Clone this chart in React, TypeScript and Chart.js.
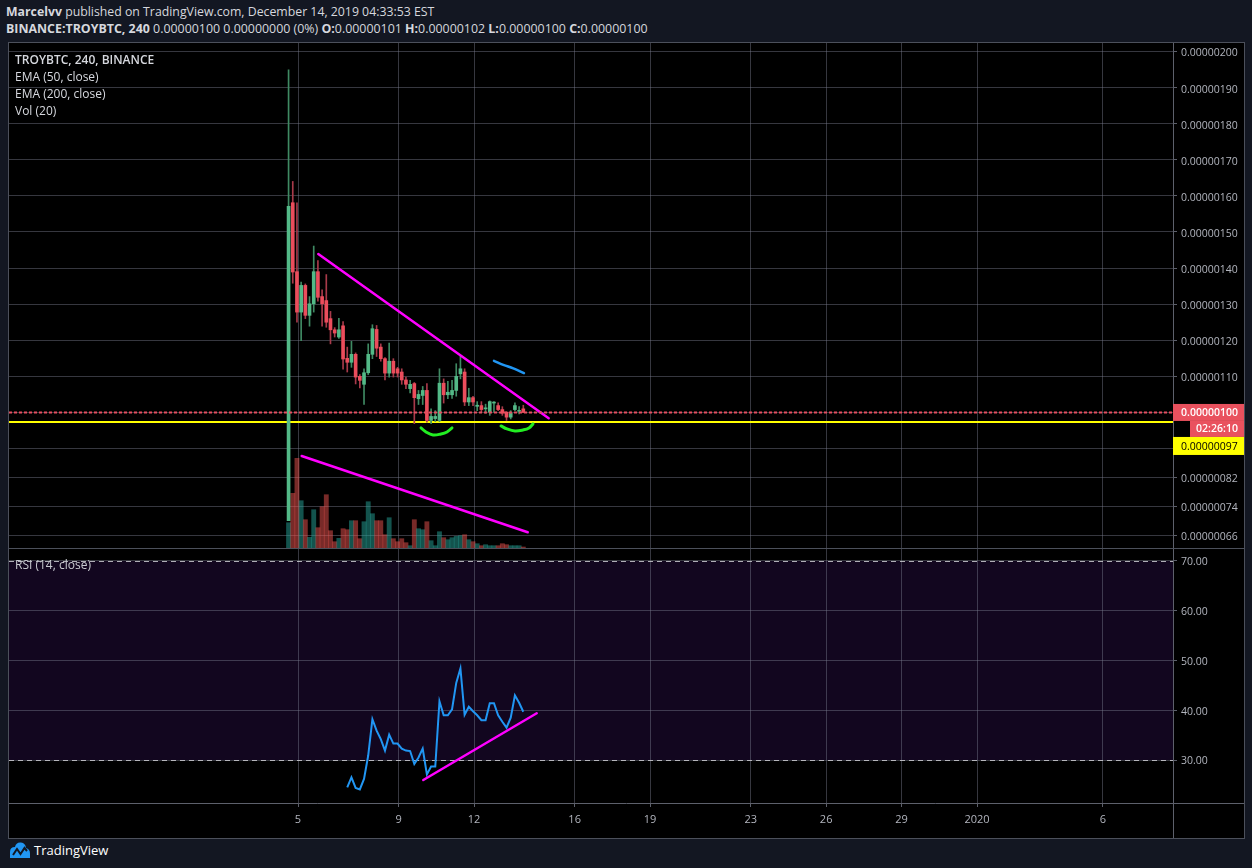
import React, { useEffect, useRef } from "react";
import { Chart, registerables } from "chart.js";

Chart.register(...registerables);

// ---------------- data (prices in satoshi, 1e-8 BTC) ----------------
const barsPerDay = 6; // 240-minute bars
const firstBarDay = 4.625; // first bar: Dec 4 (chart time)

const opens = [70, 158.1, 139, 127.8, 135.2, 126.9, 130.1, 139, 132.1, 131, 126, 122.9, 120.9, 124, 115, 113.9, 116.1, 110, 107.8, 111, 116.1, 123, 118.1, 114.9, 110.9, 114.2, 112.1, 111.2, 109, 106.6, 108, 103.8, 104.7, 106.1, 97.8, 98.3, 97.8, 108.1, 104.9, 104.9, 106.1, 110.7, 111.2, 102.9, 104.1, 101.7, 101.9, 101, 100.1, 102.6, 101.9, 100.8, 100.1, 98.7, 100.8, 100.3, 101];
const highs = [194.9, 164, 158.1, 136.1, 135.6, 132.1, 146.1, 142.1, 134, 138.2, 128, 123.5, 126.1, 125.2, 118.1, 119.7, 116.5, 110.5, 112.1, 119, 124.3, 124.1, 119, 115.2, 119.2, 114.9, 112.5, 112.1, 109.8, 108.9, 108.3, 106.1, 107.2, 108, 101, 100.5, 112.1, 109.3, 108.6, 108.9, 113.5, 115.8, 112.1, 106.7, 104.5, 103, 103, 102.3, 103.2, 103, 102.7, 101.6, 100.1, 100.5, 102.7, 101.6, 102];
const lows = [70, 135.8, 125, 119.9, 126, 123.9, 127.8, 130.8, 123.9, 123.6, 119, 120.9, 120.5, 112, 111.2, 112.5, 107.9, 106.8, 102.2, 110.5, 114.9, 115.5, 114.2, 109, 109.8, 109.8, 109.8, 107.8, 106.6, 105.4, 96.9, 102.2, 102.2, 97.3, 96.9, 97.5, 97.5, 102.6, 103.8, 103.9, 104.5, 109.3, 101.9, 101.9, 101.9, 100.5, 100.1, 99.8, 99.2, 100.1, 100.5, 99.2, 97.8, 98.2, 100.5, 99.6, 100];
const closes = [157.1, 138.9, 127.8, 135.2, 126.9, 130.1, 139, 131.9, 130.1, 125, 122.9, 122, 122.9, 114.8, 113.9, 116.1, 109.8, 108.9, 111, 116.1, 123.2, 117.8, 114.9, 110.9, 114.2, 110.9, 110.9, 109, 107.8, 107.8, 104.1, 105, 106.1, 97.8, 98.9, 98.9, 108.1, 104.9, 105.6, 106.1, 110, 112.1, 102.9, 104.1, 102.9, 102, 100.8, 101.2, 103, 102.8, 100.8, 99.8, 98.7, 99.8, 101.9, 100.5, 100];
const volumes = [25.3, 54.7, 89.7, 47.3, 28.3, 10.7, 38.3, 20.3, 41.3, 53.3, 17.3, 6.3, 9.7, 19.3, 18.3, 27.3, 27.3, 9.3, 26.3, 46.3, 34.3, 27.3, 27.3, 13.3, 30.3, 9.3, 6.3, 9.3, 5.3, 2.3, 28.3, 19.3, 18.3, 26.3, 7.3, 2.3, 16.3, 10.3, 8.3, 10.3, 11.7, 12.3, 13.3, 8.3, 6.3, 4.3, 2.3, 3.3, 2.3, 2.3, 2.3, 4.3, 3.3, 2.3, 2.3, 2.3, 1];

const rsiStartBar = 14;
const rsiValues = [24.5, 26.5, 24.4, 24.1, 26.2, 30.9, 38.2, 35.9, 34.2, 31.9, 35.1, 33.3, 33.3, 32.3, 31.9, 31.8, 29.2, 30.5, 32.3, 27.1, 28.7, 28.7, 41.8, 39, 39, 40.2, 45.5, 48.4, 39.1, 40.7, 39.8, 39, 38, 38, 41.4, 41.4, 39, 37.7, 36.5, 38.5, 43, 41.5, 39.7];

const dayTicks = [5, 9, 12, 16, 19, 23, 26, 29, 32, 37];
const dayTickLabels = ["5", "9", "12", "16", "19", "23", "26", "29", "2020", "6"];
const priceTicks = [66, 74, 82, 90, 100, 110, 120, 130, 140, 150, 160, 170, 180, 190, 200];
const rsiTicks = [30, 40, 50, 60, 70];

const lastPrice = 100;
const horizontalLevel = 97.3;
const timerText = "02:26:10";

// drawings (day, price)
const trendPriceX = [5.807, 14.967];
const trendPriceY = [143.9, 98.4];
const trendVolX = [5.147, 14.133];
const trendVolY = [87.95, 66.8];
const blueX = [12.793, 13.163, 13.561, 13.986];
const blueY = [114.3, 113.2, 112.2, 110.9];
const arc1X = [9.891, 10.089, 10.368, 10.686, 10.924, 11.123];
const arc1Y = [95.71, 94.6, 93.77, 94.04, 94.6, 95.71];
const arc2X = [13.072, 13.31, 13.628, 13.946, 14.185, 14.344];
const arc2Y = [96.26, 95.43, 94.88, 95.15, 95.71, 96.82];
const trendRsiX = [9.982, 14.491];
const trendRsiY = [25.98, 39.39];

// ---------------- styling / layout ----------------
const FONT = "'Open Sans', 'Noto Sans', sans-serif";
const X_MIN = -6.491;
const X_MAX = 39.791;
const PRICE_MIN = 62.45;
const PRICE_MAX = 202.35;
const RSI_MIN = 21.36;
const RSI_MAX = 72.41;
const AXIS_W = 71;
const UP = "#53b987";
const DOWN = "#eb4d5c";
const UP_WICK = "#3f8a63";
const DOWN_WICK = "#a83a4a";
const GRID = "rgba(120,123,140,0.45)";
const TICK = "#5d606b";
const AXIS_TEXT = "#b2b5be";
const FRAME = "#4c505b";
const LABEL_RED = "#e9515e";

const fmtPrice = (v: number) => (v / 1e8).toFixed(8);
const barX = (i: number) => firstBarDay + i / barsPerDay;
const pts = (xs: number[], ys: number[]) => xs.map((x, i) => ({ x, y: ys[i] }));
const isUp = closes.map((c, i) => c >= opens[i]);

const dayLabel = (v: number) => {
  const k = dayTicks.indexOf(v);
  return k >= 0 ? dayTickLabels[k] : "";
};

function drawingLine(data: any[], color: string, width: number, tension = 0, yAxisID = "y") {
  return {
    type: "line",
    data,
    borderColor: color,
    borderWidth: width,
    pointRadius: 0,
    tension,
    fill: false,
    order: 1,
    yAxisID,
    borderCapStyle: "round",
  };
}

function mainConfig(): any {
  const volMax = Math.max(...volumes) / 0.1776;
  const decoPlugin = {
    id: "mainDeco",
    beforeDraw(chart: any) {
      const { ctx, width, height } = chart;
      ctx.save();
      ctx.fillStyle = "#000";
      ctx.fillRect(0, 0, width, height);
      ctx.restore();
    },
    beforeDatasetsDraw(chart: any) {
      const { ctx, chartArea: a, scales } = chart;
      const y = scales.y;
      ctx.save();
      ctx.beginPath();
      ctx.rect(a.left, a.top, a.width, a.height);
      ctx.clip();
      const yy = Math.round(y.getPixelForValue(horizontalLevel));
      ctx.strokeStyle = "#ffff00";
      ctx.lineWidth = 2;
      ctx.beginPath();
      ctx.moveTo(a.left, yy);
      ctx.lineTo(a.right, yy);
      ctx.stroke();
      ctx.restore();
    },
    afterDatasetsDraw(chart: any) {
      const { ctx, chartArea: a, scales } = chart;
      const y = scales.y;
      ctx.save();
      const yp = Math.round(y.getPixelForValue(lastPrice)) + 0.5;
      ctx.strokeStyle = "#e34f60";
      ctx.lineWidth = 2;
      ctx.setLineDash([3, 2]);
      ctx.beginPath();
      ctx.moveTo(a.left, yp);
      ctx.lineTo(a.right, yp);
      ctx.stroke();
      ctx.restore();
    },
    afterDraw(chart: any) {
      const { ctx, chartArea: a, scales, width } = chart;
      const y = scales.y;
      const yP = y.getPixelForValue(lastPrice);
      ctx.save();
      ctx.textBaseline = "middle";
      ctx.fillStyle = LABEL_RED;
      ctx.fillRect(a.right, yP - 8.5, width - a.right, 17);
      ctx.fillStyle = "#ffffff";
      ctx.font = `600 10.5px ${FONT}`;
      ctx.textAlign = "left";
      ctx.fillText(fmtPrice(lastPrice), a.right + 8, yP + 1);
      ctx.fillStyle = LABEL_RED;
      ctx.fillRect(a.right + 17, yP + 8.5, width - a.right - 17, 16);
      ctx.fillStyle = "#ffffff";
      ctx.textAlign = "center";
      ctx.fillText(timerText, (a.right + 17 + width) / 2, yP + 17);
      const top = yP + 24.5;
      ctx.fillStyle = "#ffff00";
      ctx.fillRect(a.right, top, width - a.right, 18);
      ctx.fillStyle = "#000000";
      ctx.textAlign = "left";
      ctx.font = `10.5px ${FONT}`;
      ctx.fillText(fmtPrice(horizontalLevel), a.right + 8, top + 10);
      ctx.restore();
    },
  };

  return {
    type: "bar",
    data: {
      datasets: [
        drawingLine(pts(trendPriceX, trendPriceY), "#ff00ff", 2.5),
        drawingLine(pts(trendVolX, trendVolY), "#ff00ff", 2.5),
        drawingLine(pts(blueX, blueY), "#2196f3", 2.5, 0.4),
        drawingLine(pts(arc1X, arc1Y), "#22ee22", 3, 0.4),
        drawingLine(pts(arc2X, arc2Y), "#22ee22", 3, 0.4),
        {
          type: "bar",
          data: opens.map((o, i) => ({ x: barX(i), y: [o, closes[i]] })),
          backgroundColor: isUp.map((u) => (u ? UP : DOWN)),
          barThickness: 3,
          minBarLength: 1,
          grouped: false,
          order: 5,
          yAxisID: "y",
        },
        {
          type: "bar",
          data: lows.map((l, i) => ({ x: barX(i), y: [l, highs[i]] })),
          backgroundColor: isUp.map((u) => (u ? UP_WICK : DOWN_WICK)),
          barThickness: 1,
          grouped: false,
          order: 6,
          yAxisID: "y",
        },
        {
          type: "bar",
          data: volumes.map((v, i) => ({ x: barX(i), y: v })),
          backgroundColor: isUp.map((u) => (u ? "rgba(38,166,154,0.5)" : "rgba(239,83,80,0.5)")),
          barThickness: 4.2,
          grouped: false,
          order: 7,
          yAxisID: "yVol",
        },
      ],
    },
    options: {
      responsive: false,
      devicePixelRatio: 1,
      animation: false,
      events: [],
      layout: { padding: 0 },
      plugins: { legend: { display: false }, tooltip: { enabled: false } },
      scales: {
        x: {
          type: "linear",
          min: X_MIN,
          max: X_MAX,
          offset: false,
          afterBuildTicks: (s: any) => {
            s.ticks = dayTicks.map((v) => ({ value: v }));
          },
          afterFit: (s: any) => {
            s.height = 0;
            s.paddingLeft = 0;
            s.paddingRight = 0;
          },
          ticks: { display: false },
          grid: { color: GRID, drawTicks: false, offset: false },
          border: { display: false },
        },
        y: {
          type: "linear",
          position: "right",
          min: PRICE_MIN,
          max: PRICE_MAX,
          afterBuildTicks: (s: any) => {
            s.ticks = priceTicks.map((v) => ({ value: v }));
          },
          afterFit: (s: any) => {
            s.width = AXIS_W;
            s.paddingTop = 0;
            s.paddingBottom = 0;
          },
          ticks: {
            callback: (v: any) => fmtPrice(Number(v)),
            color: AXIS_TEXT,
            font: { family: FONT, size: 10.5 },
            padding: 4,
            labelOffset: 2,
            autoSkip: false,
          },
          grid: { color: GRID, tickLength: 4, tickColor: TICK },
          border: { display: true, color: TICK },
        },
        yVol: {
          type: "linear",
          display: false,
          min: 0,
          max: volMax,
        },
      },
    },
    plugins: [decoPlugin],
  };
}

function rsiConfig(): any {
  const decoPlugin = {
    id: "rsiDeco",
    beforeDraw(chart: any) {
      const { ctx, width, height, chartArea: a, scales } = chart;
      const y = scales.y;
      ctx.save();
      ctx.fillStyle = "#000";
      ctx.fillRect(0, 0, width, height);
      const t = y.getPixelForValue(70);
      const b = y.getPixelForValue(30);
      ctx.fillStyle = "#12061f";
      ctx.fillRect(a.left, t, a.width, b - t);
      ctx.restore();
    },
    beforeDatasetsDraw(chart: any) {
      const { ctx, chartArea: a, scales } = chart;
      const y = scales.y;
      ctx.save();
      ctx.strokeStyle = "rgba(205,205,210,0.85)";
      ctx.lineWidth = 1;
      ctx.setLineDash([5, 4]);
      [70, 30].forEach((v) => {
        const yy = Math.round(y.getPixelForValue(v)) + 0.5;
        ctx.beginPath();
        ctx.moveTo(a.left, yy);
        ctx.lineTo(a.right, yy);
        ctx.stroke();
      });
      ctx.restore();
    },
    afterDraw(chart: any) {
      const { ctx, chartArea: a, width, height } = chart;
      ctx.save();
      ctx.strokeStyle = TICK;
      ctx.lineWidth = 1;
      ctx.beginPath();
      ctx.moveTo(Math.round(a.right) + 0.5, a.bottom);
      ctx.lineTo(Math.round(a.right) + 0.5, height);
      ctx.moveTo(0, Math.round(a.bottom) + 0.5);
      ctx.lineTo(width, Math.round(a.bottom) + 0.5);
      ctx.stroke();
      ctx.restore();
    },
  };

  return {
    type: "line",
    data: {
      datasets: [
        drawingLine(pts(trendRsiX, trendRsiY), "#ff00ff", 2.5),
        {
          type: "line",
          data: rsiValues.map((v, k) => ({ x: barX(rsiStartBar + k), y: v })),
          borderColor: "#2196f3",
          borderWidth: 2,
          pointRadius: 0,
          tension: 0,
          fill: false,
          order: 2,
        },
      ],
    },
    options: {
      responsive: false,
      devicePixelRatio: 1,
      animation: false,
      events: [],
      layout: { padding: 0 },
      plugins: { legend: { display: false }, tooltip: { enabled: false } },
      scales: {
        x: {
          type: "linear",
          min: X_MIN,
          max: X_MAX,
          offset: false,
          afterBuildTicks: (s: any) => {
            s.ticks = dayTicks.map((v) => ({ value: v }));
          },
          afterFit: (s: any) => {
            s.height = 35;
            s.paddingLeft = 0;
            s.paddingRight = 0;
          },
          ticks: {
            callback: (v: any) => dayLabel(Number(v)),
            color: AXIS_TEXT,
            font: { family: FONT, size: 11 },
            padding: 6,
            autoSkip: false,
            maxRotation: 0,
          },
          grid: { color: GRID, tickLength: 4, tickColor: TICK, offset: false },
          border: { display: false },
        },
        y: {
          type: "linear",
          position: "right",
          min: RSI_MIN,
          max: RSI_MAX,
          afterBuildTicks: (s: any) => {
            s.ticks = rsiTicks.map((v) => ({ value: v }));
          },
          afterFit: (s: any) => {
            s.width = AXIS_W;
            s.paddingTop = 0;
            s.paddingBottom = 0;
          },
          ticks: {
            callback: (v: any) => Number(v).toFixed(2),
            color: AXIS_TEXT,
            font: { family: FONT, size: 10.5 },
            padding: 4,
            labelOffset: 1.5,
            autoSkip: false,
          },
          grid: { color: GRID, tickLength: 4, tickColor: TICK },
          border: { display: true, color: TICK },
        },
      },
    },
    plugins: [decoPlugin],
  };
}

const textBase: React.CSSProperties = {
  position: "absolute",
  fontFamily: FONT,
  whiteSpace: "nowrap",
  lineHeight: "16px",
  pointerEvents: "none",
};

export default function App() {
  const mainRef = useRef<HTMLCanvasElement>(null);
  const rsiRef = useRef<HTMLCanvasElement>(null);

  useEffect(() => {
    const main = new Chart(mainRef.current as HTMLCanvasElement, mainConfig());
    const rsi = new Chart(rsiRef.current as HTMLCanvasElement, rsiConfig());
    return () => {
      main.destroy();
      rsi.destroy();
    };
  }, []);

  const n = closes.length - 1;
  const line = (style: React.CSSProperties) => (
    <div style={{ position: "absolute", background: FRAME, ...style }} />
  );

  return (
    <div style={{ position: "fixed", left: 0, top: 0, width: 1252, height: 868, background: "#131722", overflow: "hidden" }}>
      <div style={{ ...textBase, left: 6, top: 4, fontSize: 12.3, color: "#d6d8de" }}>
        <b>Marcelvv</b> published on TradingView.com, December 14, 2019 04:33:53 EST
      </div>
      <div style={{ ...textBase, left: 6, top: 21, fontSize: 12.4, color: "#d6d8de" }}>
        <b>BINANCE:TROYBTC, 240</b> {fmtPrice(closes[n])} 0.00000000 (0%) <b>O:</b>
        {fmtPrice(opens[n])} <b>H:</b>
        {fmtPrice(highs[n])} <b>L:</b>
        {fmtPrice(lows[n])} <b>C:</b>
        {fmtPrice(closes[n])}
      </div>

      <canvas ref={mainRef} width={1235} height={505} style={{ position: "absolute", left: 9, top: 43, display: "block" }} />
      <canvas ref={rsiRef} width={1235} height={289} style={{ position: "absolute", left: 9, top: 549, display: "block" }} />

      {line({ left: 8, top: 42, width: 1237, height: 1 })}
      {line({ left: 8, top: 548, width: 1237, height: 1 })}
      {line({ left: 8, top: 838, width: 1237, height: 1 })}
      {line({ left: 8, top: 42, width: 1, height: 797 })}
      {line({ left: 1244, top: 42, width: 1, height: 797 })}

      <div style={{ ...textBase, left: 15, top: 52, fontSize: 12, fontWeight: 600, color: "#d6d8de" }}>TROYBTC, 240, BINANCE</div>
      <div style={{ ...textBase, left: 15, top: 69, fontSize: 12, color: "#d6d8de" }}>EMA (50, close)</div>
      <div style={{ ...textBase, left: 15, top: 86, fontSize: 12, color: "#d6d8de" }}>EMA (200, close)</div>
      <div style={{ ...textBase, left: 15, top: 103, fontSize: 12, color: "#d6d8de" }}>Vol (20)</div>
      <div style={{ ...textBase, left: 15, top: 557, fontSize: 12, color: "#c8cad0" }}>RSI (14, close)</div>

      <svg width="22" height="18" viewBox="0 0 22 18" style={{ position: "absolute", left: 9, top: 841 }}>
        <path d="M1 17 L1 11 Q1 6 6 6 Q7 1 12 1.5 Q16.5 2 17 7 Q21 8 21 12.5 L21 17 Z" fill="#2196f3" />
        <polyline points="4,14 8,8 11.5,13 15.5,7 18,10" stroke="#131722" strokeWidth="2" fill="none" />
      </svg>
      <div style={{ ...textBase, left: 34, top: 842, fontSize: 13, color: "#ffffff" }}>TradingView</div>
    </div>
  );
}
